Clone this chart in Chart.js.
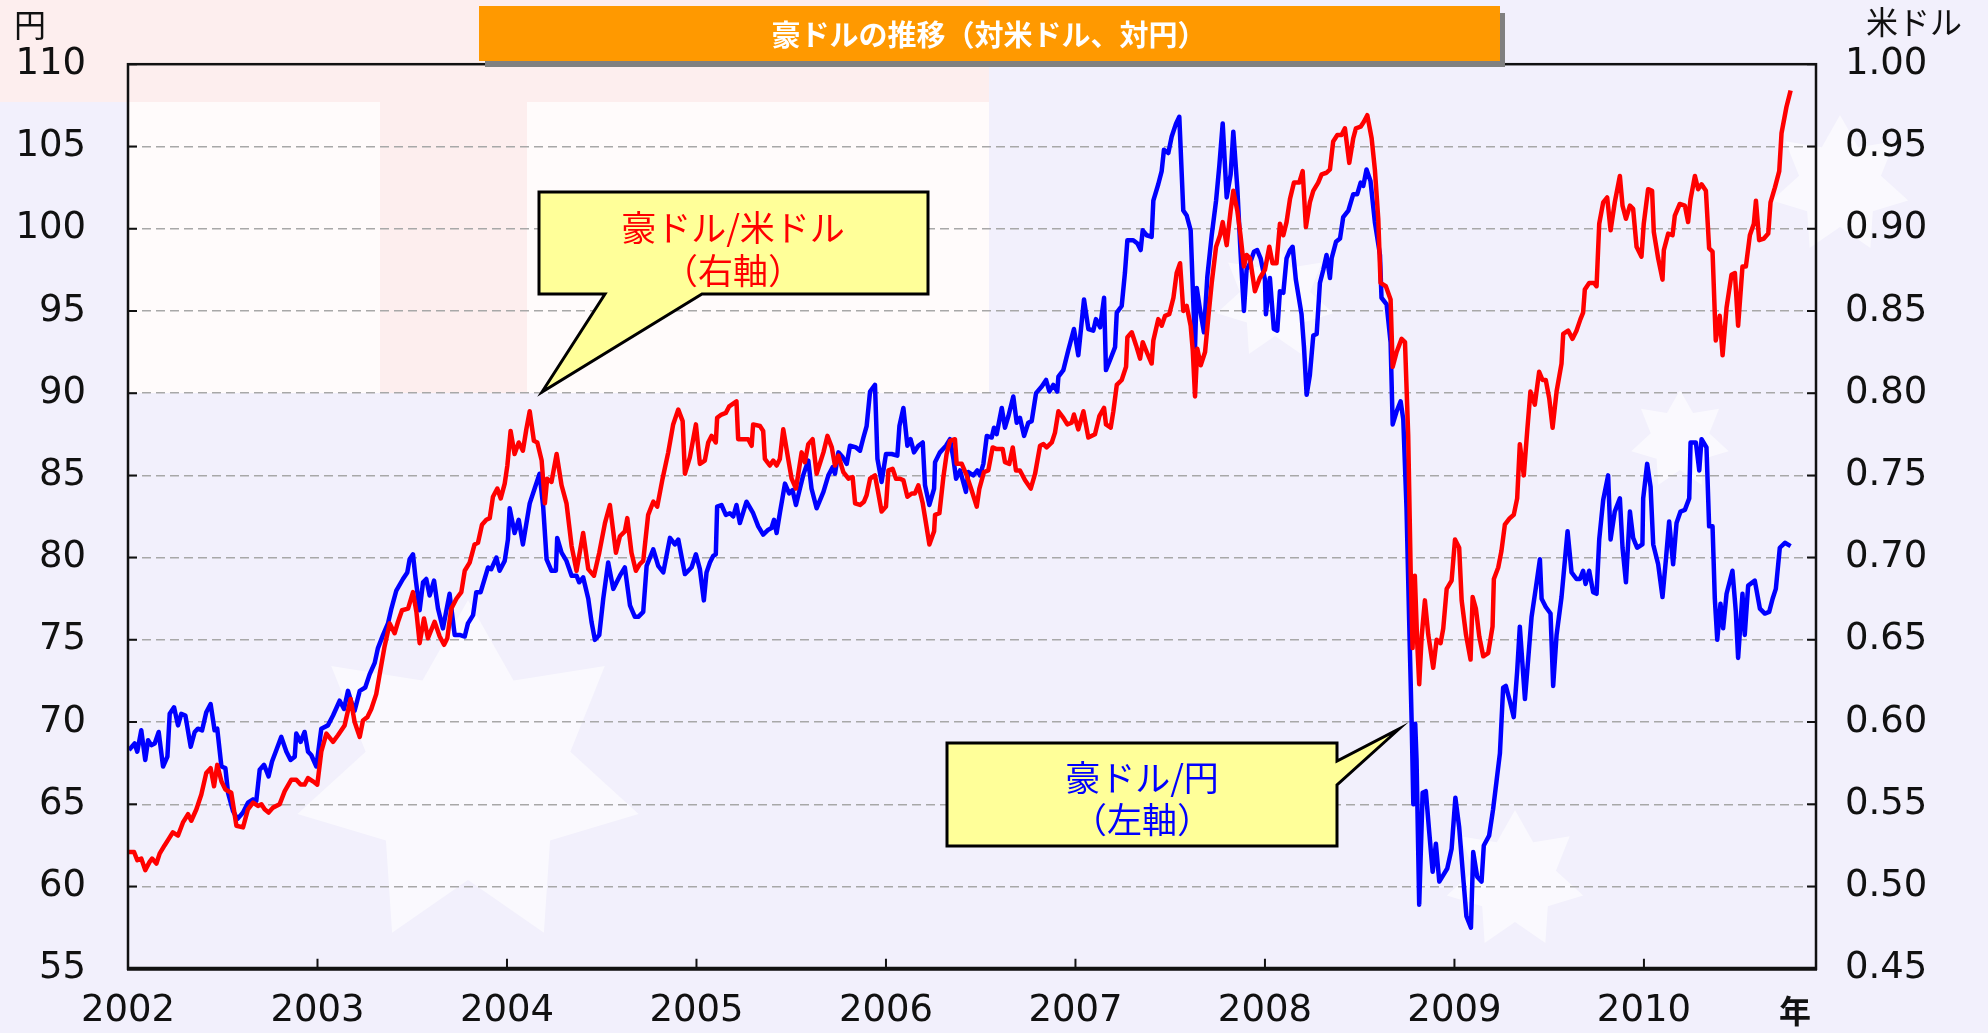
<!DOCTYPE html>
<html><head><meta charset="utf-8">
<script src="https://cdn.jsdelivr.net/npm/chart.js@4.4.1/dist/chart.umd.min.js"></script>
<style>html,body{margin:0;padding:0;background:#f2f0fc;overflow:hidden}canvas{display:block}</style>
</head><body>
<canvas id="c" width="1988" height="1033" style="width:1988px;height:1033px"></canvas>
<script>
// ---- data ----
const years = [2002,2003,2004,2005,2006,2007,2008,2009,2010];
const yenTicks = [55,60,65,70,75,80,85,90,95,100,105,110];
const usdTicks = [0.45,0.50,0.55,0.60,0.65,0.70,0.75,0.80,0.85,0.90,0.95,1.00];

// 豪ドル/円 (left axis), decimal year
const audJpyDates = [2002.005,2002.035,2002.049,2002.070,2002.091,2002.106,2002.123,2002.141,2002.162,2002.185,2002.208,2002.220,2002.243,2002.264,2002.281,2002.303,2002.331,2002.352,2002.369,2002.391,2002.413,2002.436,2002.457,2002.471,2002.493,2002.514,2002.528,2002.554,2002.577,2002.607,2002.633,2002.660,2002.677,2002.695,2002.718,2002.742,2002.760,2002.783,2002.809,2002.836,2002.858,2002.880,2002.888,2002.911,2002.932,2002.950,2002.967,2002.994,
2003.020,2003.055,2003.082,2003.117,2003.140,2003.161,2003.179,2003.196,2003.223,2003.252,2003.275,2003.302,2003.319,2003.346,2003.372,2003.390,2003.416,2003.451,2003.474,2003.486,2003.504,2003.516,2003.539,2003.557,2003.574,2003.592,2003.615,2003.636,2003.662,2003.697,2003.724,2003.750,2003.777,2003.794,2003.821,2003.838,2003.861,2003.900,2003.917,2003.944,2003.961,2003.988,
2004.005,2004.014,2004.040,2004.062,2004.084,2004.120,2004.146,2004.172,2004.191,2004.209,2004.235,2004.258,2004.265,2004.288,2004.314,2004.341,2004.367,2004.381,2004.402,2004.429,2004.446,2004.464,2004.487,2004.508,2004.534,2004.561,2004.596,2004.622,2004.649,2004.675,2004.693,2004.719,2004.737,2004.772,2004.798,2004.825,2004.860,2004.886,2004.904,2004.939,2004.974,2004.997,
2005.018,2005.039,2005.053,2005.071,2005.088,2005.102,2005.109,2005.132,2005.155,2005.176,2005.194,2005.211,2005.229,2005.264,2005.299,2005.326,2005.352,2005.379,2005.396,2005.409,2005.423,2005.440,2005.467,2005.489,2005.507,2005.525,2005.546,2005.563,2005.590,2005.607,2005.634,2005.670,2005.696,2005.719,2005.731,2005.749,2005.772,2005.793,2005.810,2005.842,2005.863,2005.881,2005.898,2005.916,2005.942,2005.955,2005.977,
2006.000,2006.030,2006.060,2006.071,2006.092,2006.113,2006.130,2006.148,2006.171,2006.194,2006.206,2006.229,2006.254,2006.259,2006.285,2006.317,2006.338,2006.356,2006.370,2006.391,2006.422,2006.435,2006.461,2006.482,2006.496,2006.514,2006.532,2006.558,2006.570,2006.584,2006.611,2006.628,2006.646,2006.672,2006.690,2006.707,2006.729,2006.751,2006.769,2006.792,2006.822,2006.845,2006.862,2006.883,2006.904,2006.910,2006.936,2006.962,2006.992,
2007.015,2007.045,2007.068,2007.094,2007.108,2007.130,2007.151,2007.161,2007.182,2007.209,2007.218,2007.244,2007.261,2007.274,2007.305,2007.327,2007.344,2007.355,2007.376,2007.402,2007.411,2007.437,2007.455,2007.467,2007.490,2007.508,2007.531,2007.548,2007.569,2007.587,2007.608,2007.622,2007.631,2007.640,2007.657,2007.678,2007.696,2007.719,2007.742,2007.759,2007.777,2007.798,2007.819,2007.833,2007.854,2007.871,2007.889,2007.903,2007.921,2007.942,2007.959,2007.977,
2008.000,2008.005,2008.026,2008.047,2008.065,2008.079,2008.097,2008.114,2008.132,2008.146,2008.163,2008.193,2008.206,2008.220,2008.237,2008.255,2008.273,2008.290,2008.308,2008.325,2008.343,2008.352,2008.375,2008.396,2008.413,2008.440,2008.466,2008.487,2008.505,2008.519,2008.536,2008.557,2008.580,2008.607,2008.615,2008.642,2008.663,2008.674,2008.695,2008.716,2008.730,2008.747,2008.761,2008.774,2008.783,2008.793,2008.800,2008.814,2008.832,2008.849,2008.867,2008.885,2008.902,2008.920,2008.941,2008.962,2008.985,
2009.005,2009.025,2009.046,2009.063,2009.087,2009.099,2009.120,2009.143,2009.155,2009.183,2009.204,2009.222,2009.240,2009.257,2009.271,2009.292,2009.313,2009.331,2009.345,2009.372,2009.389,2009.407,2009.430,2009.451,2009.460,2009.482,2009.507,2009.521,2009.539,2009.565,2009.597,2009.618,2009.644,2009.662,2009.679,2009.692,2009.711,2009.732,2009.750,2009.764,2009.785,2009.811,2009.824,2009.846,2009.873,2009.887,2009.905,2009.926,2009.943,2009.964,2009.992,2009.996,
2010.017,2010.035,2010.049,2010.075,2010.098,2010.116,2010.133,2010.154,2010.172,2010.193,2010.216,2010.239,2010.246,2010.274,2010.292,2010.304,2010.330,2010.344,2010.362,2010.374,2010.387,2010.404,2010.418,2010.436,2010.467,2010.485,2010.497,2010.520,2010.532,2010.550,2010.585,2010.612,2010.638,2010.661,2010.679,2010.696,2010.717,2010.744,2010.774];
const audJpy = [68.3,68.7,68.2,69.5,67.7,68.9,68.6,68.7,69.4,67.3,67.9,70.5,70.9,69.8,70.5,70.4,68.5,69.4,69.6,69.5,70.6,71.1,69.5,69.6,67.3,67.2,65.7,64.6,64.1,64.5,65.1,65.3,65.2,67.1,67.4,66.7,67.6,68.3,69.1,68.2,67.7,67.9,69.3,68.8,69.4,68.2,68.0,67.3,
69.6,69.8,70.4,71.3,70.8,71.9,71.2,70.7,71.9,72.1,72.9,73.6,74.5,75.3,76.0,76.9,78.0,78.7,79.1,79.9,80.2,78.9,76.8,78.5,78.7,77.7,78.6,76.9,75.7,77.8,75.3,75.3,75.2,76.0,76.5,77.9,77.9,79.4,79.3,80.0,79.2,79.8,
81.1,83.0,81.5,82.3,80.8,83.3,84.2,85.1,83.1,79.9,79.2,79.2,81.2,80.3,79.8,78.9,78.9,78.5,78.8,77.5,76.1,75.0,75.3,77.5,79.7,78.1,78.9,79.4,77.1,76.4,76.4,76.7,79.5,80.5,79.5,79.1,81.2,80.8,81.1,79.0,79.4,80.2,
79.3,77.4,79.1,79.7,80.1,80.2,83.1,83.2,82.6,82.7,82.5,83.2,82.1,83.4,82.7,81.9,81.4,81.7,81.8,82.3,81.5,82.7,84.5,83.9,84.1,83.2,84.2,85.0,85.9,84.2,83.0,84.0,85.0,85.5,85.1,86.4,86.1,85.7,86.8,86.7,86.5,87.3,88.0,90.1,90.5,86.0,84.6,
86.3,86.3,86.2,88.0,89.1,86.8,87.2,86.4,86.8,87.0,84.4,83.2,84.2,85.8,86.4,86.8,87.2,86.0,84.8,85.3,84.0,85.2,85.0,85.3,85.0,85.7,87.4,87.3,87.9,87.5,89.1,87.9,88.6,89.8,88.2,88.5,87.4,88.2,88.3,90.0,90.4,90.8,90.1,90.5,90.1,91.0,91.4,92.6,93.9,
92.3,95.7,93.9,93.8,94.5,94.0,95.8,91.4,92.0,92.8,94.9,95.3,97.3,99.3,99.3,99.1,98.7,99.9,99.6,99.5,101.7,102.7,103.5,104.8,104.6,105.6,106.4,106.8,101.1,100.8,99.9,95.5,92.8,96.4,95.1,93.7,97.1,99.6,101.7,103.8,106.4,101.9,103.3,105.9,102.5,98.6,95.0,97.5,97.9,98.6,98.7,98.2,
96.9,94.8,97.0,93.9,93.8,96.2,96.1,98.2,98.7,98.9,96.9,94.8,92.8,89.9,91.1,93.5,93.6,96.7,97.5,98.4,97.0,98.2,99.2,99.4,100.7,101.1,102.1,102.1,102.8,102.6,103.6,102.9,100.4,98.4,95.8,95.4,93.1,88.1,88.9,89.5,88.4,83.0,76.2,70.1,65.0,69.9,67.7,58.9,65.7,65.8,63.3,60.9,62.6,60.3,60.7,61.1,62.3,
65.4,63.6,60.6,58.2,57.5,62.1,60.6,60.3,62.5,63.1,64.7,66.4,68.1,72.1,72.2,71.3,70.3,73.1,75.8,71.4,73.8,76.4,78.2,79.9,77.5,77.0,76.6,72.2,75.3,77.6,81.6,79.1,78.7,78.7,79.2,78.4,79.2,77.9,77.8,81.1,83.5,85.0,81.1,82.8,83.6,80.6,78.5,82.8,81.2,80.6,80.8,83.6,
85.7,84.3,80.8,79.6,77.6,79.9,82.2,79.6,82.1,82.8,82.9,83.6,87.0,87.0,85.3,87.2,86.7,81.9,81.9,77.5,75.0,77.2,75.7,77.8,79.2,76.7,73.9,77.8,75.3,78.3,78.6,76.9,76.6,76.7,77.5,78.1,80.6,80.9,80.7];

// 豪ドル/米ドル (right axis), decimal year
const audUsdDates = [2002.005,2002.032,2002.049,2002.070,2002.091,2002.114,2002.127,2002.150,2002.167,2002.193,2002.215,2002.237,2002.264,2002.290,2002.317,2002.334,2002.361,2002.387,2002.413,2002.436,2002.454,2002.471,2002.493,2002.514,2002.545,2002.572,2002.607,2002.633,2002.660,2002.686,2002.704,2002.721,2002.742,2002.765,2002.800,2002.827,2002.862,2002.888,2002.911,2002.932,2002.950,2002.976,2002.999,
2003.020,2003.047,2003.082,2003.108,2003.143,2003.175,2003.196,2003.223,2003.240,2003.263,2003.284,2003.310,2003.328,2003.354,2003.381,2003.407,2003.425,2003.446,2003.478,2003.504,2003.522,2003.539,2003.562,2003.583,2003.618,2003.645,2003.668,2003.685,2003.706,2003.733,2003.759,2003.777,2003.803,2003.829,2003.847,2003.868,2003.891,2003.909,2003.926,2003.949,2003.967,2003.988,
2004.002,2004.019,2004.040,2004.062,2004.084,2004.102,2004.120,2004.142,2004.160,2004.183,2004.200,2004.212,2004.235,2004.262,2004.288,2004.314,2004.341,2004.367,2004.402,2004.429,2004.459,2004.487,2004.517,2004.543,2004.575,2004.596,2004.622,2004.635,2004.657,2004.680,2004.701,2004.719,2004.745,2004.772,2004.793,2004.821,2004.851,2004.877,2004.904,2004.927,2004.939,2004.965,2004.997,
2005.018,2005.044,2005.062,2005.080,2005.102,2005.109,2005.132,2005.155,2005.173,2005.211,2005.220,2005.247,2005.273,2005.291,2005.299,2005.335,2005.352,2005.361,2005.387,2005.405,2005.423,2005.440,2005.458,2005.484,2005.502,2005.525,2005.555,2005.572,2005.590,2005.613,2005.634,2005.670,2005.691,2005.714,2005.731,2005.749,2005.775,2005.802,2005.824,2005.837,2005.863,2005.884,2005.898,2005.916,2005.942,2005.960,2005.977,
2006.000,2006.013,2006.035,2006.053,2006.074,2006.092,2006.113,2006.136,2006.153,2006.171,2006.194,2006.211,2006.229,2006.254,2006.259,2006.282,2006.303,2006.320,2006.338,2006.364,2006.373,2006.400,2006.426,2006.452,2006.479,2006.493,2006.517,2006.540,2006.563,2006.584,2006.616,2006.628,2006.651,2006.669,2006.686,2006.707,2006.734,2006.764,2006.787,2006.813,2006.831,2006.848,2006.875,2006.892,2006.910,2006.936,2006.957,2006.980,2006.992,
2007.015,2007.042,2007.068,2007.103,2007.126,2007.151,2007.161,2007.186,2007.200,2007.218,2007.244,2007.267,2007.274,2007.297,2007.320,2007.341,2007.355,2007.376,2007.402,2007.411,2007.437,2007.455,2007.473,2007.495,2007.517,2007.534,2007.552,2007.569,2007.587,2007.608,2007.619,2007.631,2007.643,2007.661,2007.684,2007.701,2007.719,2007.742,2007.763,2007.777,2007.798,2007.819,2007.833,2007.854,2007.871,2007.889,2007.903,2007.921,2007.947,2007.973,
2008.000,2008.023,2008.040,2008.061,2008.079,2008.097,2008.114,2008.132,2008.153,2008.181,2008.199,2008.216,2008.237,2008.255,2008.281,2008.299,2008.325,2008.343,2008.360,2008.382,2008.404,2008.422,2008.445,2008.466,2008.480,2008.505,2008.522,2008.540,2008.563,2008.580,2008.598,2008.610,2008.638,2008.663,2008.674,2008.695,2008.721,2008.739,2008.756,2008.769,2008.779,2008.791,2008.804,2008.814,2008.827,2008.844,2008.862,2008.888,2008.906,2008.927,2008.941,2008.959,2008.985,
2009.003,2009.025,2009.038,2009.061,2009.085,2009.096,2009.113,2009.131,2009.152,2009.178,2009.201,2009.208,2009.231,2009.248,2009.266,2009.292,2009.313,2009.331,2009.345,2009.366,2009.384,2009.401,2009.424,2009.447,2009.465,2009.482,2009.500,2009.518,2009.539,2009.565,2009.574,2009.600,2009.623,2009.644,2009.665,2009.679,2009.688,2009.711,2009.736,2009.750,2009.764,2009.785,2009.806,2009.824,2009.846,2009.873,2009.887,2009.905,2009.926,2009.943,2009.961,2009.987,2009.999,
2010.022,2010.043,2010.052,2010.075,2010.098,2010.105,2010.128,2010.151,2010.163,2010.189,2010.216,2010.233,2010.246,2010.269,2010.286,2010.304,2010.327,2010.344,2010.362,2010.379,2010.400,2010.415,2010.436,2010.462,2010.480,2010.497,2010.520,2010.538,2010.559,2010.580,2010.591,2010.608,2010.633,2010.656,2010.668,2010.691,2010.714,2010.726,2010.752,2010.774];
const audUsd = [0.521,0.521,0.516,0.517,0.510,0.515,0.517,0.514,0.520,0.525,0.529,0.533,0.531,0.539,0.544,0.540,0.547,0.556,0.569,0.572,0.561,0.574,0.564,0.559,0.557,0.537,0.536,0.547,0.551,0.549,0.550,0.547,0.545,0.548,0.550,0.558,0.565,0.565,0.562,0.562,0.566,0.564,0.562,
0.582,0.593,0.588,0.592,0.598,0.614,0.600,0.591,0.601,0.603,0.608,0.617,0.629,0.646,0.660,0.654,0.661,0.668,0.669,0.679,0.667,0.648,0.663,0.651,0.661,0.652,0.647,0.651,0.669,0.675,0.679,0.692,0.697,0.708,0.709,0.720,0.723,0.724,0.737,0.742,0.736,0.745,
0.756,0.777,0.763,0.770,0.765,0.778,0.789,0.771,0.770,0.759,0.733,0.748,0.746,0.763,0.744,0.733,0.707,0.692,0.715,0.693,0.689,0.703,0.721,0.732,0.703,0.713,0.716,0.724,0.703,0.692,0.696,0.698,0.726,0.734,0.731,0.748,0.764,0.781,0.790,0.783,0.751,0.761,0.781,
0.757,0.759,0.770,0.774,0.770,0.785,0.787,0.788,0.792,0.795,0.772,0.772,0.772,0.768,0.781,0.780,0.777,0.760,0.756,0.759,0.756,0.760,0.778,0.760,0.748,0.742,0.764,0.758,0.769,0.772,0.751,0.764,0.774,0.767,0.756,0.762,0.752,0.748,0.749,0.733,0.732,0.734,0.738,0.748,0.750,0.739,0.728,
0.731,0.753,0.754,0.748,0.748,0.747,0.737,0.739,0.739,0.744,0.733,0.721,0.708,0.716,0.726,0.727,0.749,0.763,0.771,0.772,0.757,0.757,0.750,0.741,0.731,0.742,0.752,0.753,0.767,0.766,0.766,0.758,0.757,0.767,0.753,0.753,0.747,0.742,0.751,0.768,0.769,0.767,0.770,0.776,0.789,0.785,0.781,0.782,0.787,
0.778,0.789,0.773,0.775,0.786,0.791,0.781,0.779,0.789,0.805,0.808,0.816,0.834,0.837,0.829,0.821,0.831,0.825,0.818,0.832,0.845,0.841,0.847,0.848,0.858,0.873,0.879,0.850,0.853,0.841,0.826,0.798,0.827,0.817,0.825,0.846,0.867,0.889,0.896,0.904,0.890,0.911,0.923,0.911,0.896,0.877,0.884,0.882,0.862,0.870,
0.875,0.889,0.879,0.879,0.903,0.896,0.904,0.918,0.928,0.928,0.935,0.901,0.916,0.923,0.928,0.933,0.934,0.936,0.953,0.957,0.957,0.961,0.940,0.955,0.961,0.962,0.965,0.969,0.955,0.936,0.906,0.867,0.865,0.857,0.816,0.825,0.833,0.831,0.774,0.692,0.645,0.689,0.647,0.623,0.652,0.674,0.653,0.633,0.650,0.648,0.657,0.681,0.686,
0.711,0.706,0.674,0.653,0.638,0.676,0.669,0.652,0.640,0.642,0.658,0.687,0.694,0.704,0.720,0.724,0.726,0.736,0.769,0.750,0.777,0.801,0.793,0.813,0.808,0.808,0.797,0.779,0.801,0.818,0.836,0.838,0.833,0.838,0.845,0.849,0.863,0.867,0.867,0.865,0.903,0.916,0.919,0.899,0.916,0.932,0.914,0.906,0.914,0.912,0.889,0.883,0.903,
0.924,0.923,0.898,0.882,0.869,0.887,0.897,0.896,0.908,0.915,0.914,0.904,0.918,0.932,0.924,0.927,0.923,0.888,0.886,0.832,0.847,0.823,0.852,0.872,0.873,0.841,0.877,0.877,0.896,0.903,0.917,0.893,0.894,0.897,0.916,0.925,0.935,0.958,0.974,0.984];

const titleText = '豪ドルの推移（対米ドル、対円）';
const usdLabel = ['豪ドル/米ドル', '（右軸）'];
const jpyLabel = ['豪ドル/円', '（左軸）'];

// ---- drawing ----
const CJK = '"Noto Sans CJK JP", "Noto Sans", sans-serif';
const NUM = '"DejaVu Sans", "Liberation Sans", sans-serif';

function pairs(xs, ys){ return xs.map((x,i)=>({x:x, y:ys[i]})); }

function star(ctx, cx, cy, r, n){
  ctx.beginPath();
  for (let i=0;i<2*n;i++){
    const rr = i%2 ? r*0.6 : r;
    const a = -Math.PI/2 + i*Math.PI/n;
    const px = cx + rr*Math.cos(a), py = cy + rr*Math.sin(a);
    if (i===0) ctx.moveTo(px,py); else ctx.lineTo(px,py);
  }
  ctx.closePath();
  ctx.fill();
}

const decoPlugin = {
  id: 'deco',
  beforeDraw(chart){
    const ctx = chart.ctx;
    ctx.save();
    ctx.fillStyle = '#f2f0fc';
    ctx.fillRect(0,0,chart.width,chart.height);
    // faint background flag (decoration)
    ctx.fillStyle = '#fdeeee';
    ctx.fillRect(0,0,989,102);
    ctx.fillStyle = '#fffbfb';
    ctx.fillRect(128,102,861,291);
    ctx.fillStyle = '#fdeeee';
    ctx.fillRect(380,62,147,331);
    ctx.globalAlpha = 0.6;
    ctx.fillStyle = '#ffffff';
    star(ctx, 468, 775, 175, 7);
    star(ctx, 1515, 880, 70, 7);
    star(ctx, 1275, 300, 60, 7);
    star(ctx, 1680, 440, 50, 7);
    star(ctx, 1840, 185, 70, 7);
    ctx.restore();
  },
  afterDatasetsDraw(chart){
    const ctx = chart.ctx, a = chart.chartArea;
    const sx = chart.scales.x, sy = chart.scales.y, sy2 = chart.scales.y2;
    ctx.save();
    ctx.strokeStyle = '#111';
    ctx.lineWidth = 2;
    ctx.beginPath();
    sy.ticks.forEach(t=>{ const p = sy.getPixelForValue(t.value); ctx.moveTo(a.left, p); ctx.lineTo(a.left+9, p); });
    sy2.ticks.forEach(t=>{ const p = sy2.getPixelForValue(t.value); ctx.moveTo(a.right, p); ctx.lineTo(a.right-9, p); });
    sx.ticks.forEach(t=>{ const p = sx.getPixelForValue(t.value); ctx.moveTo(p, a.bottom); ctx.lineTo(p, a.bottom-10); });
    ctx.stroke();
    ctx.lineWidth = 2.5;
    ctx.strokeRect(a.left, a.top, a.right-a.left, a.bottom-a.top);
    ctx.lineWidth = 4;
    ctx.beginPath(); ctx.moveTo(a.left-1, a.bottom); ctx.lineTo(a.right+1, a.bottom); ctx.stroke();
    ctx.restore();
  },
  afterDraw(chart){
    const ctx = chart.ctx;
    ctx.save();
    // title box
    ctx.fillStyle = '#808080';
    ctx.fillRect(485,13,1020,54);
    ctx.fillStyle = '#ff9900';
    ctx.fillRect(479,6,1021,55);
    ctx.fillStyle = '#ffffff';
    ctx.font = 'bold 29px ' + CJK;
    ctx.textAlign = 'center'; ctx.textBaseline = 'middle';
    ctx.fillText(titleText, 989, 35);

    // callouts
    function callout(pts, color, lines, cx, ys){
      ctx.beginPath();
      ctx.moveTo(pts[0][0], pts[0][1]);
      for (let i=1;i<pts.length;i++) ctx.lineTo(pts[i][0], pts[i][1]);
      ctx.closePath();
      ctx.fillStyle = '#ffff99';
      ctx.fill();
      ctx.lineWidth = 3; ctx.strokeStyle = '#000'; ctx.lineJoin = 'miter';
      ctx.stroke();
      ctx.fillStyle = color;
      ctx.font = '35px ' + CJK;
      ctx.textAlign = 'center'; ctx.textBaseline = 'middle';
      lines.forEach((s,i)=>ctx.fillText(s, cx, ys[i]));
    }
    callout([[539,192],[928,192],[928,294],[702,294],[542,392],[605,294],[539,294]], '#ff0000', usdLabel, 733, [228,271]);
    callout([[947,743],[1337,743],[1337,761],[1399,729],[1337,785],[1337,846],[947,846]], '#0000ff', jpyLabel, 1142, [778,820]);

    // unit labels
    ctx.fillStyle = '#111';
    ctx.font = '32px ' + CJK;
    ctx.textAlign = 'left'; ctx.textBaseline = 'middle';
    ctx.fillText('円', 14, 25);
    ctx.fillText('米ドル', 1866, 22);
    ctx.font = 'bold 32px ' + CJK;
    ctx.textAlign = 'center';
    ctx.fillText('年', 1795, 1011);
    ctx.restore();
  }
};

const tickFont = {family: NUM, size: 37};

new Chart(document.getElementById('c'), {
  type: 'line',
  data: {
    datasets: [
      {label: '豪ドル/米ドル', data: pairs(audUsdDates, audUsd), yAxisID: 'y2', borderColor: '#ff0000', borderWidth: 4.5, pointRadius: 0, tension: 0, borderJoinStyle: 'round'},
      {label: '豪ドル/円', data: pairs(audJpyDates, audJpy), yAxisID: 'y', borderColor: '#0000ff', borderWidth: 4.5, pointRadius: 0, tension: 0, borderJoinStyle: 'round'}
    ]
  },
  options: {
    responsive: false, animation: false, devicePixelRatio: 1,
    layout: {padding: {top: 62, left: 0, right: 0, bottom: 0}},
    plugins: {legend: {display: false}, tooltip: {enabled: false}, title: {display: false}},
    scales: {
      x: {
        type: 'linear', min: 2002, max: 2010.908,
        afterBuildTicks: s => { s.ticks = years.map(v => ({value: v})); },
        afterFit: s => { s.height = 64; },
        grid: {display: false, drawTicks: false}, border: {display: false},
        ticks: {font: tickFont, color: '#111', padding: 20, maxRotation: 0, autoSkip: false, callback: v => String(v)}
      },
      y: {
        position: 'left', min: 55, max: 110,
        afterBuildTicks: s => { s.ticks = yenTicks.map(v => ({value: v})); },
        afterFit: s => { s.width = 128; },
        grid: {color: '#a8a8a8', lineWidth: 1.5, drawTicks: false},
        border: {display: false, dash: [9, 5]},
        ticks: {font: tickFont, color: '#111', padding: 42, autoSkip: false, callback: v => String(v)}
      },
      y2: {
        position: 'right', min: 0.45, max: 1.0,
        afterBuildTicks: s => { s.ticks = usdTicks.map(v => ({value: v})); },
        afterFit: s => { s.width = 172; },
        grid: {display: false, drawTicks: false}, border: {display: false},
        ticks: {font: tickFont, color: '#111', padding: 29, autoSkip: false, callback: v => Number(v).toFixed(2)}
      }
    }
  },
  plugins: [decoPlugin]
});
</script>
</body></html>
